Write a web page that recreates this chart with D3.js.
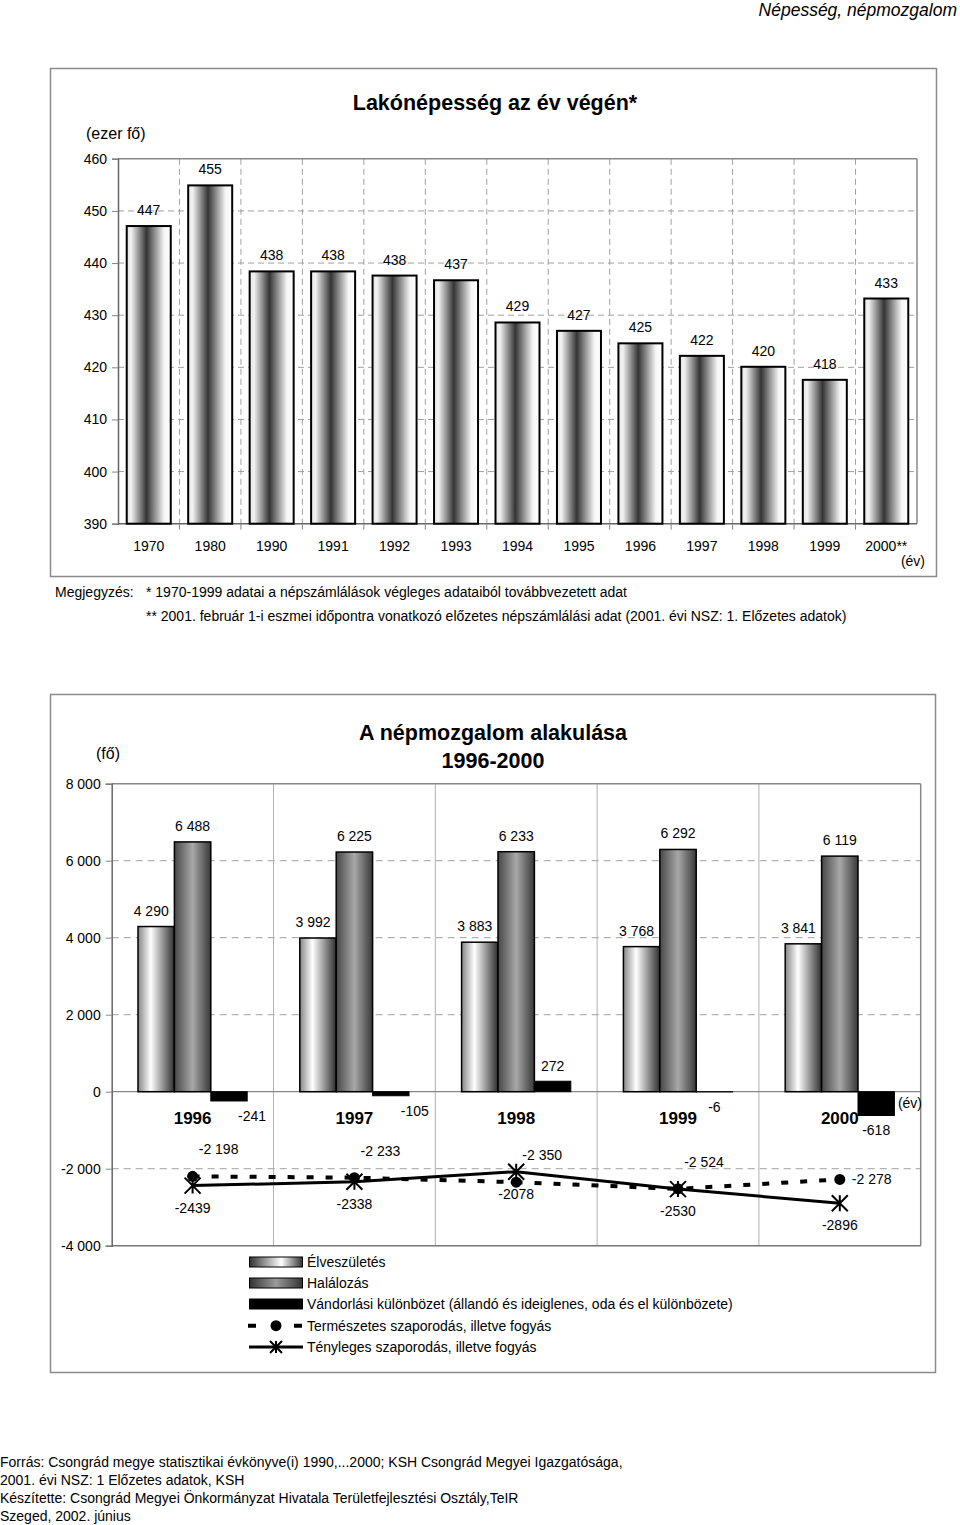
<!DOCTYPE html>
<html><head><meta charset="utf-8">
<script src="https://cdn.jsdelivr.net/npm/d3@7"></script>
<style>
body{margin:0;background:#fff;}
text{font-family:"Liberation Sans",Arial,sans-serif;fill:#000;}
</style></head>
<body>
<script>
// ---------- data ----------
const topYears = ["1970","1980","1990","1991","1992","1993","1994","1995","1996","1997","1998","1999","2000**"];
const topValues = [447.1, 454.9, 438.4, 438.4, 437.6, 436.7, 428.6, 427.0, 424.6, 422.2, 420.1, 417.6, 433.2];
const topTicks = [390, 400, 410, 420, 430, 440, 450, 460];

const moveYears = ["1996","1997","1998","1999","2000"];
const births = [4290, 3992, 3883, 3768, 3841];
const deaths = [6488, 6225, 6233, 6292, 6119];
const migration = [-241, -105, 272, -6, -618];
const naturalChange = [-2198, -2233, -2350, -2524, -2278];
const actualChange = [-2439, -2338, -2078, -2530, -2896];
const moveTicks = [-4000, -2000, 0, 2000, 4000, 6000, 8000];

const legendLabels = ["Élveszületés","Halálozás","Vándorlási különbözet (állandó és ideiglenes, oda és el különbözete)","Természetes szaporodás, illetve fogyás","Tényleges szaporodás, illetve fogyás"];
const footerLines = ["Forrás: Csongrád megye statisztikai évkönyve(i) 1990,...2000; KSH Csongrád Megyei Igazgatósága,","2001. évi NSZ: 1 Előzetes adatok, KSH","Készítette: Csongrád Megyei Önkormányzat Hivatala Területfejlesztési Osztály,TeIR","Szeged, 2002. június"];

// ---------- helpers ----------
const loc = d3.formatLocale({decimal:",", thousands:" ", grouping:[3], currency:["",""], minus:"-"});
const fmtSp = loc.format(",.0f");
const fmtPlain = loc.format(".0f");

const svg = d3.select("body").append("svg").attr("width",960).attr("height",1525);
const defs = svg.append("defs");
function grad(id, stops){
  const g = defs.append("linearGradient").attr("id",id).attr("x1","0%").attr("x2","100%").attr("y1","0%").attr("y2","0%");
  stops.forEach(s=>g.append("stop").attr("offset",s[0]).attr("stop-color",s[1]));
}
grad("gTop",[["0%","#e6e6e6"],["10%","#f2f2f2"],["45%","#343434"],["85%","#f6f6f6"],["100%","#ffffff"]]);
grad("gBirth",[["0%","#858585"],["35%","#ffffff"],["100%","#2e2e2e"]]);
grad("gDeath",[["0%","#474747"],["50%","#a8a8a8"],["100%","#383838"]]);
grad("gBirthL",[["0%","#333"],["60%","#ffffff"],["100%","#333"]]);
grad("gDeathL",[["0%","#333"],["50%","#9a9a9a"],["100%","#333"]]);

// header
svg.append("text").attr("x",957).attr("y",16).attr("text-anchor","end")
  .style("font-style","italic").style("font-size","17.5px").text("Népesség, népmozgalom");

// ================= TOP CHART =================
svg.append("rect").attr("x",50.5).attr("y",68.5).attr("width",886).attr("height",508)
  .attr("fill","none").attr("stroke","#8a8a8a").attr("stroke-width",1.5);

const tx = d3.scaleBand().domain(topYears).range([118,917]).paddingInner(0.284).paddingOuter(0.142);
const ty = d3.scaleLinear().domain([390,460]).range([523.7,158.8]);
const tStep = tx.step();
const tBound = topYears.slice(1).map(d=>tx(d) - (tStep - tx.bandwidth())/2);

svg.append("text").attr("x",495).attr("y",110).attr("text-anchor","middle")
  .style("font-size","21.5px").style("font-weight","bold").text("Lakónépesség az év végén*");
svg.append("text").attr("x",86).attr("y",139).style("font-size","16px").text("(ezer fő)");

const tg = svg.append("g");
tg.selectAll(".hg").data(topTicks.filter(t=>t>390 && t<460)).join("line")
  .attr("x1",118).attr("x2",917).attr("y1",d=>ty(d)).attr("y2",d=>ty(d))
  .attr("stroke","#a0a0a0").attr("stroke-dasharray","6,4");
tg.selectAll(".vg").data(tBound).join("line")
  .attr("x1",d=>d).attr("x2",d=>d).attr("y1",ty(460)).attr("y2",ty(390))
  .attr("stroke","#a0a0a0").attr("stroke-dasharray","6,4");
tg.append("line").attr("x1",118).attr("x2",917).attr("y1",ty(460)).attr("y2",ty(460)).attr("stroke","#888").attr("stroke-width",1.5);
tg.append("line").attr("x1",917).attr("x2",917).attr("y1",ty(460)).attr("y2",ty(390)).attr("stroke","#888").attr("stroke-width",1.5);
tg.append("line").attr("x1",118).attr("x2",917).attr("y1",ty(390)).attr("y2",ty(390)).attr("stroke","#666").attr("stroke-width",1.5);
tg.selectAll(".bt").data(tBound).join("line")
  .attr("x1",d=>d).attr("x2",d=>d).attr("y1",ty(390)).attr("y2",ty(390)+6).attr("stroke","#888");

const tAxis = svg.append("g").attr("transform","translate(118,0)")
  .call(d3.axisLeft(ty).tickValues(topTicks).tickSize(6).tickPadding(5).tickFormat(d3.format("d")));
tAxis.select(".domain").attr("stroke","#666").attr("stroke-width",1.5);
tAxis.selectAll(".tick line").attr("stroke","#888");
tAxis.selectAll("text").style("font-size","14px").style("font-family","'Liberation Sans',Arial,sans-serif");

svg.append("g").selectAll("rect").data(topValues).join("rect")
  .attr("x",(d,i)=>tx(topYears[i])).attr("width",tx.bandwidth())
  .attr("y",d=>ty(d)).attr("height",d=>ty(390)-ty(d))
  .attr("fill","url(#gTop)").attr("stroke","#000").attr("stroke-width",2);
svg.append("g").selectAll("text").data(topValues).join("text")
  .attr("x",(d,i)=>tx(topYears[i])+tx.bandwidth()/2).attr("y",d=>ty(d)-11)
  .attr("text-anchor","middle").style("font-size","14px").text(d=>fmtPlain(d));
svg.append("g").selectAll("text").data(topYears).join("text")
  .attr("x",d=>tx(d)+tx.bandwidth()/2).attr("y",551)
  .attr("text-anchor","middle").style("font-size","14px").text(d=>d);
svg.append("text").attr("x",925).attr("y",566).attr("text-anchor","end").style("font-size","14px").text("(év)");

svg.append("text").attr("x",55).attr("y",597).style("font-size","14px").text("Megjegyzés:");
svg.append("text").attr("x",146).attr("y",597).style("font-size","14px").text("* 1970-1999 adatai a népszámlálások végleges adataiból továbbvezetett adat");
svg.append("text").attr("x",146).attr("y",621).style("font-size","14px").text("** 2001. február 1-i eszmei időpontra vonatkozó előzetes népszámlálási adat (2001. évi NSZ: 1. Előzetes adatok)");

// ================= BOTTOM CHART =================
svg.append("rect").attr("x",50.5).attr("y",694.5).attr("width",885).attr("height",678)
  .attr("fill","none").attr("stroke","#8a8a8a").attr("stroke-width",1.5);

const bx = d3.scaleBand().domain(moveYears).range([111.7,920.7]);
const sub = d3.scaleBand().domain(["b","d","m"]).range([0,bx.step()]).paddingInner(0).paddingOuter(0.7225);
const by = d3.scaleLinear().domain([-4000,8000]).range([1245.7,783.7]);
const bStep = bx.step();
const cx = i => bx(moveYears[i]) + bStep/2;

svg.append("text").attr("x",493).attr("y",740).attr("text-anchor","middle")
  .style("font-size","21.5px").style("font-weight","bold").text("A népmozgalom alakulása");
svg.append("text").attr("x",493).attr("y",768).attr("text-anchor","middle")
  .style("font-size","21.5px").style("font-weight","bold").text("1996-2000");
svg.append("text").attr("x",96).attr("y",759).style("font-size","16px").text("(fő)");

const bg = svg.append("g");
bg.selectAll(".hg").data(moveTicks.filter(t=>t!==0 && t>-4000 && t<8000)).join("line")
  .attr("x1",111.7).attr("x2",920.7).attr("y1",d=>by(d)).attr("y2",d=>by(d))
  .attr("stroke","#a0a0a0").attr("stroke-dasharray","7,5");
bg.selectAll(".vg").data(moveYears.slice(1)).join("line")
  .attr("x1",d=>bx(d)).attr("x2",d=>bx(d)).attr("y1",by(8000)).attr("y2",by(-4000))
  .attr("stroke","#b0b0b0");
bg.append("line").attr("x1",111.7).attr("x2",920.7).attr("y1",by(8000)).attr("y2",by(8000)).attr("stroke","#888").attr("stroke-width",1.5);
bg.append("line").attr("x1",920.7).attr("x2",920.7).attr("y1",by(8000)).attr("y2",by(-4000)).attr("stroke","#888").attr("stroke-width",1.5);
bg.append("line").attr("x1",111.7).attr("x2",920.7).attr("y1",by(-4000)).attr("y2",by(-4000)).attr("stroke","#777").attr("stroke-width",1.5);
bg.append("line").attr("x1",111.7).attr("x2",920.7).attr("y1",by(0)).attr("y2",by(0)).attr("stroke","#888").attr("stroke-width",1.2);

const bAxis = svg.append("g").attr("transform","translate(111.7,0)")
  .call(d3.axisLeft(by).tickValues(moveTicks).tickSize(6).tickPadding(5).tickFormat(d=>fmtSp(d)));
bAxis.select(".domain").attr("stroke","#666").attr("stroke-width",1.5);
bAxis.selectAll(".tick line").attr("stroke","#888");
bAxis.selectAll("text").style("font-size","14px").style("font-family","'Liberation Sans',Arial,sans-serif");

function drawBars(vals, key, fill, sw){
  svg.append("g").selectAll("rect").data(vals).join("rect")
    .attr("x",(d,i)=>bx(moveYears[i])+sub(key)).attr("width",sub.bandwidth())
    .attr("y",d=>Math.min(by(d),by(0))).attr("height",d=>Math.abs(by(d)-by(0)))
    .attr("fill",fill).attr("stroke","#000").attr("stroke-width",sw);
}
drawBars(births,"b","url(#gBirth)",1.5);
drawBars(deaths,"d","url(#gDeath)",1.5);
drawBars(migration,"m","#000",1);

const sc = key => (i => bx(moveYears[i]) + sub(key) + sub.bandwidth()/2);
svg.append("g").selectAll("text").data(births).join("text")
  .attr("x",(d,i)=>sc("b")(i)-5).attr("y",d=>by(d)-11).attr("text-anchor","middle")
  .style("font-size","14px").text(d=>fmtSp(d));
svg.append("g").selectAll("text").data(deaths).join("text")
  .attr("x",(d,i)=>sc("d")(i)).attr("y",d=>by(d)-11).attr("text-anchor","middle")
  .style("font-size","14px").text(d=>fmtSp(d));
const migLabelDx = [23, 24, 0, 0, 0];
svg.append("g").selectAll("text").data(migration).join("text")
  .attr("x",(d,i)=>sc("m")(i)+migLabelDx[i]).attr("y",d=>d>0 ? by(d)-10 : by(d)+20).attr("text-anchor","middle")
  .style("font-size","14px").text(d=>fmtSp(d));

svg.append("g").selectAll("text").data(moveYears).join("text")
  .attr("x",(d,i)=>cx(i)).attr("y",1124).attr("text-anchor","middle")
  .style("font-size","17px").style("font-weight","bold").text(d=>d);
svg.append("text").attr("x",922).attr("y",1108).attr("text-anchor","end").style("font-size","14px").text("(év)");

const lineGen = vals => d3.line().x((d,i)=>cx(i)).y(d=>by(d))(vals);
svg.append("path").attr("d",lineGen(actualChange)).attr("fill","none").attr("stroke","#000").attr("stroke-width",3);
svg.append("path").attr("d",lineGen(naturalChange)).attr("fill","none").attr("stroke","#000").attr("stroke-width",4).attr("stroke-dasharray","7,12");

function asterisk(g, x, y, s){
  g.append("path").attr("d",`M${x-s},${y-s}L${x+s},${y+s}M${x-s},${y+s}L${x+s},${y-s}M${x},${y-s}L${x},${y+s}`)
    .attr("stroke","#000").attr("stroke-width",2).attr("fill","none");
}
const mk = svg.append("g");
naturalChange.forEach((v,i)=>mk.append("circle").attr("cx",cx(i)).attr("cy",by(v)).attr("r",5.5).attr("fill","#000"));
actualChange.forEach((v,i)=>asterisk(mk,cx(i),by(v),8));

svg.append("g").selectAll("text").data(naturalChange).join("text")
  .attr("x",(d,i)=> i<4 ? cx(i)+26 : cx(i)+12)
  .attr("y",(d,i)=> i<4 ? by(d)-22 : by(d)+5)
  .attr("text-anchor",(d,i)=> i<4 ? "middle" : "start")
  .style("font-size","14px").text(d=>fmtSp(d));
svg.append("g").selectAll("text").data(actualChange).join("text")
  .attr("x",(d,i)=>cx(i)).attr("y",d=>by(d)+27).attr("text-anchor","middle")
  .style("font-size","14px").text(d=>fmtPlain(d));

const lg = svg.append("g");
const rowY = [1262, 1283, 1304, 1325.7, 1347];
const swFill = ["url(#gBirthL)","url(#gDeathL)","#000"];
for(let i=0;i<3;i++){
  lg.append("rect").attr("x",249.5).attr("y",rowY[i]-5).attr("width",53).attr("height",10)
    .attr("fill",swFill[i]).attr("stroke","#000").attr("stroke-width",1);
}
lg.append("line").attr("x1",248).attr("x2",302).attr("y1",rowY[3]).attr("y2",rowY[3])
  .attr("stroke","#000").attr("stroke-width",4).attr("stroke-dasharray","8,38");
lg.append("circle").attr("cx",276).attr("cy",rowY[3]).attr("r",5.5).attr("fill","#000");
lg.append("line").attr("x1",249).attr("x2",303).attr("y1",rowY[4]).attr("y2",rowY[4])
  .attr("stroke","#000").attr("stroke-width",3);
asterisk(lg,276,rowY[4],6);
lg.selectAll("text").data(legendLabels).join("text")
  .attr("x",307).attr("y",(d,i)=>rowY[i]+5).style("font-size","14px").text(d=>d);

svg.append("g").selectAll("text").data(footerLines).join("text")
  .attr("x",0).attr("y",(d,i)=>1467+i*18).style("font-size","14px").text(d=>d);
</script>
</body></html>
